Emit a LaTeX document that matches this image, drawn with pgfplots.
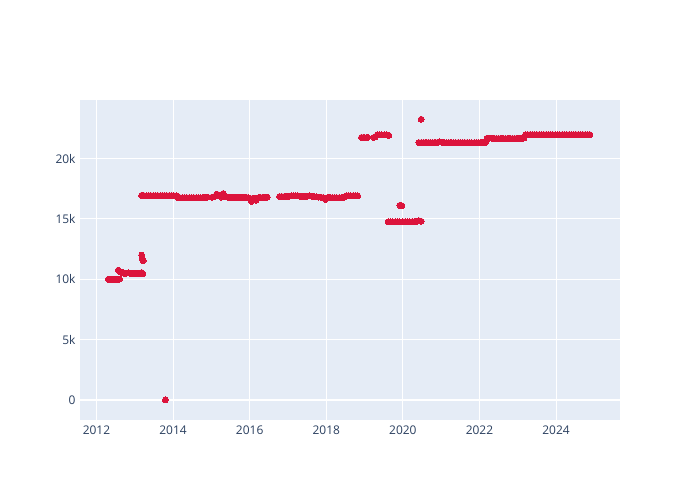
\documentclass[border=0pt]{standalone}
\usepackage{pgfplots}
\pgfplotsset{compat=1.18}
\usepackage{pgfplotstable}
\usepackage{fontspec}
\setmainfont{Open Sans}
\definecolor{bgc}{HTML}{E5ECF6}
\definecolor{tickc}{HTML}{2A3F5F}
\definecolor{mk}{HTML}{DC143C}
\pgfplotstableread{
x y
2012.31 10000
2012.35 10000
2012.39 10000
2012.43 9990
2012.47 10000
2012.51 10000
2012.55 10000
2012.60 10020
2012.57 10750
2012.60 10650
2012.64 10600
2012.68 10550
2012.73 10500
2012.78 10500
2012.83 10520
2012.88 10500
2012.93 10500
2012.98 10500
2013.03 10500
2013.08 10500
2013.13 10500
2013.18 10550
2013.21 10450
2013.18 12000
2013.20 11650
2013.22 11550
2013.80 0
2013.18 16950
2013.24 16930
2013.30 16900
2013.36 16930
2013.42 16930
2013.48 16920
2013.54 16930
2013.60 16930
2013.66 16900
2013.72 16930
2013.78 16930
2013.84 16920
2013.90 16930
2013.96 16930
2014.02 16920
2014.08 16900
2014.12 16760
2014.18 16760
2014.24 16750
2014.30 16760
2014.36 16760
2014.42 16750
2014.48 16760
2014.54 16760
2014.60 16750
2014.66 16760
2014.72 16760
2014.78 16770
2014.84 16780
2014.90 16800
2015.02 16800
2015.08 16850
2015.14 17050
2015.20 16900
2015.26 16800
2015.31 17100
2015.36 16850
2015.42 16800
2015.48 16780
2015.54 16800
2015.60 16780
2015.66 16800
2015.72 16780
2015.78 16800
2015.84 16780
2015.90 16800
2015.96 16750
2016.02 16700
2016.05 16450
2016.10 16700
2016.16 16550
2016.22 16750
2016.28 16780
2016.34 16780
2016.40 16800
2016.46 16800
2016.78 16850
2016.84 16850
2016.90 16850
2016.96 16870
2017.02 16880
2017.08 16900
2017.14 16900
2017.20 16900
2017.26 16900
2017.32 16880
2017.38 16870
2017.44 16880
2017.50 16870
2017.56 16900
2017.62 16880
2017.68 16850
2017.74 16830
2017.80 16800
2017.86 16800
2017.92 16750
2017.98 16620
2018.04 16780
2018.10 16780
2018.16 16760
2018.22 16760
2018.28 16750
2018.34 16760
2018.40 16760
2018.46 16800
2018.52 16900
2018.58 16920
2018.64 16920
2018.70 16920
2018.76 16920
2018.82 16900
2018.92 21750
2018.98 21750
2019.04 21730
2019.08 21750
2019.24 21750
2019.28 21800
2019.33 21950
2019.39 21950
2019.45 21960
2019.51 21950
2019.57 21950
2019.63 21920
2019.62 14770
2019.68 14770
2019.74 14760
2019.80 14770
2019.86 14770
2019.91 14770
2020.00 14770
2020.06 14770
2020.12 14770
2020.18 14770
2020.24 14770
2020.30 14780
2020.36 14800
2020.42 14850
2020.48 14800
2019.92 16120
2019.97 16100
2020.48 23250
2020.42 21320
2020.48 21320
2020.54 21330
2020.60 21330
2020.66 21320
2020.72 21330
2020.78 21320
2020.84 21330
2020.90 21330
2020.96 21380
2021.02 21340
2021.08 21330
2021.14 21320
2021.20 21320
2021.26 21330
2021.32 21320
2021.38 21320
2021.44 21320
2021.50 21320
2021.56 21320
2021.62 21320
2021.68 21320
2021.74 21320
2021.80 21310
2021.86 21310
2021.92 21320
2021.98 21320
2022.04 21330
2022.10 21340
2022.16 21350
2022.20 21680
2022.26 21700
2022.32 21680
2022.38 21660
2022.44 21660
2022.50 21660
2022.56 21660
2022.62 21660
2022.68 21660
2022.74 21660
2022.80 21660
2022.86 21660
2022.92 21660
2022.98 21670
2023.04 21670
2023.10 21680
2023.16 21700
2023.20 21960
2023.26 21980
2023.32 21980
2023.38 21980
2023.44 21980
2023.50 21980
2023.56 21980
2023.62 21980
2023.68 21980
2023.74 21980
2023.80 21980
2023.86 21980
2023.92 21970
2023.98 21970
2024.04 21970
2024.10 21970
2024.16 21980
2024.22 21980
2024.28 21980
2024.34 21980
2024.40 21980
2024.46 21980
2024.52 21980
2024.58 21980
2024.64 21980
2024.70 21980
2024.76 21980
2024.82 21980
2024.88 21980
}\datatable
\begin{document}
\begin{tikzpicture}[x=1bp,y=1bp]
\useasboundingbox (0,0) rectangle (700,500);
\begin{axis}[
  at={(80bp,80bp)}, anchor=south west,
  scale only axis, width=540bp, height=320bp,
  xmin=2011.57, xmax=2025.67,
  ymin=-1660, ymax=24850,
  scaled y ticks=false, scaled x ticks=false,
  axis background/.style={fill=bgc},
  axis line style={draw=none},
  major tick length=0pt,
  xtick={2012,2014,2016,2018,2020,2022,2024},
  xticklabels={2012,2014,2016,2018,2020,2022,2024},
  ytick={0,5000,10000,15000,20000},
  yticklabels={0,5k,10k,15k,20k},
  grid=major,
  major grid style={draw=white, line width=1bp},
  tick label style={font=\fontsize{12}{14}\selectfont, text=tickc},
  xticklabel style={yshift=-2bp},
  yticklabel style={xshift=-1bp},
  clip=true,
]
\draw[white, line width=2bp] (axis cs:2011.57,0) -- (axis cs:2025.67,0);
\addplot[mk, only marks, mark=*, mark size=3bp, mark options={fill=mk, draw=mk, line width=0pt}] table[x=x,y=y] {\datatable};
\end{axis}
\end{tikzpicture}
\end{document}
